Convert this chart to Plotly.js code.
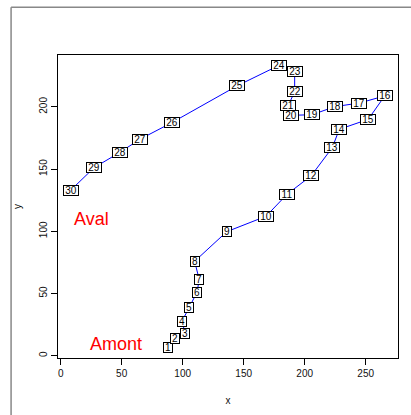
<!DOCTYPE html>
<html>
<head>
<meta charset="utf-8">
<script src="https://cdn.plot.ly/plotly-3.0.1.min.js"></script>
<style>html,body{margin:0;padding:0;background:#fff;}#chart{width:411px;height:415px;}</style>
</head>
<body>
<div id="chart"></div>
<script>
var pointLabels = ["1","2","3","4","5","6","7","8","9","10","11","12","13","14","15","16","17","18","19","20","21","22","23","24","25","26","27","28","29","30"];
var xValues = [88.2,93.7,102.1,99.4,105.4,111.7,113.6,109.8,136.1,168.3,185.5,205.4,222.6,228.4,252.1,265.6,244.8,224.8,206.0,188.5,186.6,191.8,191.8,179.0,144.8,91.0,65.0,48.9,27.3,8.2];
var yValues = [6.4,14.2,18.0,27.7,38.9,51.0,61.1,75.9,99.7,112.1,129.7,144.7,167.2,182.0,190.0,208.8,203.1,200.2,193.7,193.2,201.3,212.2,228.3,233.4,217.0,187.3,174.0,163.7,151.1,133.0];
var noteTexts = ["Aval","Amont"];
var noteX = [25.4,45.2];
var noteY = [109.6,9.2];

var annotations = [];
for (var i = 0; i < pointLabels.length; i++) {
  annotations.push({
    x: xValues[i], y: yValues[i], xref: 'x', yref: 'y',
    text: pointLabels[i], showarrow: false,
    font: {family: 'Liberation Sans, Arial, sans-serif', size: 10, color: '#000'},
    width: pointLabels[i].length > 1 ? 14 : 8, height: 9,
    bgcolor: '#fff', bordercolor: '#000', borderwidth: 1, borderpad: 0
  });
}
for (var j = 0; j < noteTexts.length; j++) {
  annotations.push({
    x: noteX[j], y: noteY[j], xref: 'x', yref: 'y',
    text: noteTexts[j], showarrow: false,
    font: {family: 'Liberation Sans, Arial, sans-serif', size: 18, color: '#ff0000'}
  });
}

var trace = {
  x: xValues, y: yValues, type: 'scatter', mode: 'lines',
  line: {color: '#0000ff', width: 1}, hoverinfo: 'none'
};

var axisFont = {family: 'Liberation Sans, Arial, sans-serif', size: 10, color: '#111'};
var layout = {
  width: 411, height: 415,
  margin: {l: 58, r: 13, t: 55, b: 57},
  paper_bgcolor: '#fff', plot_bgcolor: '#fff',
  showlegend: false,
  xaxis: {
    range: [-2.2, 276.5], tickmode: 'linear', tick0: 0, dtick: 50,
    ticks: 'outside', ticklen: 6, tickcolor: '#000', tickwidth: 1,
    showline: true, mirror: true, linecolor: '#000', linewidth: 1,
    showgrid: false, zeroline: false, tickfont: axisFont,
    title: {text: 'x', font: {family: 'Liberation Sans, Arial, sans-serif', size: 10, color: '#111'}, standoff: 18}
  },
  yaxis: {
    range: [-1.8, 241.7], tickmode: 'linear', tick0: 0, dtick: 50,
    ticks: 'outside', ticklen: 6, tickcolor: '#000', tickwidth: 1,
    showline: true, mirror: true, linecolor: '#000', linewidth: 1,
    showgrid: false, zeroline: false, tickfont: axisFont, tickangle: -90,
    title: {text: 'y', font: {family: 'Liberation Sans, Arial, sans-serif', size: 10, color: '#111'}, standoff: 14}
  },
  annotations: annotations,
  shapes: [
    {type: 'line', xref: 'paper', yref: 'paper', x0: -0.138, x1: -0.138, y0: 1.158, y1: -0.2, line: {color: '#888', width: 1.5}},
    {type: 'line', xref: 'paper', yref: 'paper', x0: -0.138, x1: 1.05, y0: 1.158, y1: 1.158, line: {color: '#888', width: 1.5}}
  ]
};
Plotly.newPlot('chart', [trace], layout, {staticPlot: true, displayModeBar: false});
</script>
</body>
</html>
